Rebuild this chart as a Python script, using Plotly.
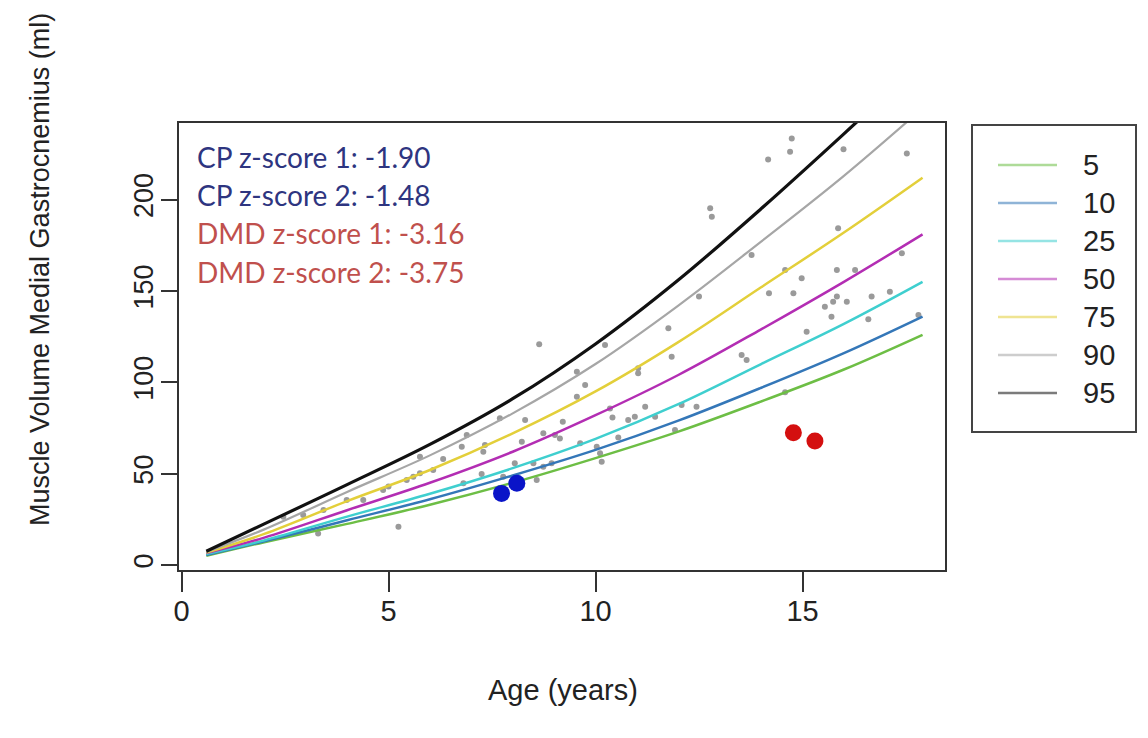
import plotly.graph_objects as go

# ---------------- data ----------------
ages = [0.6, 2, 4, 6, 8, 10, 12, 14, 16, 17.9]
percentile_labels = ["5", "10", "25", "50", "75", "90", "95"]
p5 = [5, 12.5, 22.5, 33, 45, 58.5, 73, 89.5, 107, 126]
p10 = [5.5, 13, 24.5, 36, 49, 63, 79, 97, 116, 136]
p25 = [6, 13.5, 26.5, 39, 53, 69, 88, 110, 132, 155]
p50 = [6.5, 15, 30, 45, 62, 82, 104, 129, 155, 181]
p75 = [6.8, 17, 35, 52, 72, 95, 122, 152, 182, 212]
p90 = [7.2, 19.5, 40, 60, 83, 110, 142, 177, 213, 250]
p95 = [7.5, 22.5, 44, 66, 91, 121, 156, 195, 236, 276]
percentile_values = [p5, p10, p25, p50, p75, p90, p95]
percentile_colors = ["#6DBE45", "#3477B8", "#3FCFCF", "#B32DB3", "#E3CF3A", "#A6A6A6", "#111111"]
percentile_widths = [2.5, 2.5, 2.5, 2.5, 2.5, 2.2, 3.2]

ref_age = [2.46, 2.94, 3.3, 3.43, 3.99, 4.39, 4.87, 5.0, 5.24, 5.44, 5.6, 5.76, 5.76, 6.08,
           6.32, 6.77, 6.81, 6.89, 7.25, 7.29, 7.33, 7.69, 7.77, 8.05, 8.22, 8.30, 8.5, 8.58,
           8.64, 8.74, 8.74, 8.94, 9.02, 9.14, 9.21, 9.55, 9.55, 9.63, 9.75, 10.03, 10.11,
           10.15, 10.23, 10.35, 10.41, 10.55, 10.79, 10.95, 11.03, 11.03, 11.2, 11.44, 11.76,
           11.84, 11.92, 12.08, 12.44, 12.5, 12.77, 12.81, 13.53, 13.65, 13.77, 14.17, 14.19,
           14.58, 14.58, 14.7, 14.74, 14.78, 14.98, 15.1, 15.54, 15.7, 15.74, 15.83, 15.83,
           15.86, 15.99, 16.07, 16.27, 16.59, 16.67, 17.11, 17.4, 17.52, 17.8]
ref_vol = [26.4, 27.4, 17.3, 30.1, 35.6, 35.6, 41, 42.9, 21, 46.5, 48.3, 50.2, 59.3, 52,
           58, 64.7, 44.7, 71.2, 49.8, 62, 65.7, 80.3, 48.3, 55.7, 67.5, 79.4, 55.7, 46.5,
           120.8, 72.1, 53.8, 55.7, 71.2, 69.3, 78.4, 105.8, 92.1, 66.6, 98.5, 64.7, 61.1,
           56.5, 120.4, 85.7, 80.8, 69.8, 79.4, 81.2, 107.7, 105, 86.6, 81.2, 129.6,
           114, 73.9, 87.6, 86.6, 147, 195.2, 190.6, 115, 112.2, 169.7, 222, 148.7,
           94.5, 161.5, 226.2, 233.5, 148.7, 156.9, 127.7, 141.4, 135.9, 144.1, 146.9, 161.5,
           184.3, 227.5, 144.1, 161.5, 134.5, 146.9, 149.6, 170.6, 225.3, 136.8]

cp_age = [7.73, 8.10]
cp_vol = [39.2, 44.7]
dmd_age = [14.78, 15.30]
dmd_vol = [72.4, 67.9]

zscore_texts = ["CP z-score 1: -1.90", "CP z-score 2: -1.48",
                "DMD z-score 1: -3.16", "DMD z-score 2: -3.75"]
zscore_colors = ["#2E3580", "#2E3580", "#C0504D", "#C0504D"]

x_ticks = [0, 5, 10, 15]
y_ticks = [0, 50, 100, 150, 200]

# ---------------- layout geometry (pixels) ----------------
W, H = 1148, 738
L, R, T, B = 179, 945, 123, 570


def px_x(p):
    return (p - L) / (R - L)


def px_y(p):
    return (B - p) / (B - T)


fig = go.Figure()

fig.add_trace(go.Scatter(x=ref_age, y=ref_vol, mode="markers",
                         marker=dict(size=6, color="#9A9A9A"),
                         showlegend=False, hoverinfo="x+y"))

for lab, vals, col, w in zip(percentile_labels, percentile_values, percentile_colors, percentile_widths):
    fig.add_trace(go.Scatter(x=ages, y=vals, mode="lines", name=lab,
                             line=dict(color=col, width=w, shape="spline", smoothing=1.0),
                             showlegend=False))

fig.add_trace(go.Scatter(x=cp_age, y=cp_vol, mode="markers",
                         marker=dict(size=17, color="#0A14C8"), showlegend=False))
fig.add_trace(go.Scatter(x=dmd_age, y=dmd_vol, mode="markers",
                         marker=dict(size=17, color="#D40F0F"), showlegend=False))

annotations = []
shapes = []

# z-score texts
text_y = [157, 195, 233, 272]
for t, c, yy in zip(zscore_texts, zscore_colors, text_y):
    annotations.append(dict(x=px_x(195), y=px_y(yy), xref="paper", yref="paper",
                            text=t, showarrow=False, xanchor="left", yanchor="middle",
                            font=dict(family="Lato", size=28, color=c)))

# manual legend
shapes.append(dict(type="rect", xref="paper", yref="paper",
                   x0=px_x(972), x1=px_x(1136), y0=px_y(125), y1=px_y(432),
                   line=dict(color="#444444", width=2), fillcolor="rgba(0,0,0,0)"))
for i, (lab, col) in enumerate(zip(percentile_labels, percentile_colors)):
    yy = 165 + 38 * i
    shapes.append(dict(type="line", xref="paper", yref="paper",
                       x0=px_x(998), x1=px_x(1057), y0=px_y(yy), y1=px_y(yy),
                       line=dict(color=col, width=2.5), opacity=0.55))
    annotations.append(dict(x=px_x(1081), y=px_y(yy), xref="paper", yref="paper",
                            text=lab, showarrow=False, xanchor="left", yanchor="middle",
                            font=dict(family="Liberation Sans, Arial", size=29, color="#222222")))

# axis titles
annotations.append(dict(x=px_x(563), y=px_y(690), xref="paper", yref="paper",
                        text="Age (years)", showarrow=False, xanchor="center", yanchor="middle",
                        font=dict(family="Liberation Sans, Arial", size=29, color="#222222")))
annotations.append(dict(x=px_x(40), y=px_y(270), xref="paper", yref="paper",
                        text="Muscle Volume Medial Gastrocnemius (ml)", showarrow=False,
                        textangle=-90, xanchor="center", yanchor="middle",
                        font=dict(family="Liberation Sans, Arial", size=27, color="#222222")))

fig.update_layout(
    width=W, height=H,
    margin=dict(l=L, r=W - R, t=T, b=H - B),
    paper_bgcolor="white", plot_bgcolor="white",
    annotations=annotations, shapes=shapes,
    showlegend=False,
)
fig.update_xaxes(range=[(L - 181.5) / 41.4, (R - 181.5) / 41.4],
                 tickvals=x_ticks, ticktext=[str(v) for v in x_ticks],
                 showgrid=False, zeroline=False,
                 showline=True, mirror=True, linecolor="#333333", linewidth=2,
                 ticks="outside", ticklen=20, tickwidth=2, tickcolor="#333333",
                 ticklabelstandoff=-6,
                 tickfont=dict(family="Liberation Sans, Arial", size=29, color="#222222"))
fig.update_yaxes(range=[(565 - B) / 1.827, (565 - T) / 1.827],
                 tickvals=y_ticks, ticktext=[str(v) for v in y_ticks],
                 tickangle=-90,
                 showgrid=False, zeroline=False,
                 showline=True, mirror=True, linecolor="#333333", linewidth=2,
                 ticks="outside", ticklen=16, tickwidth=2, tickcolor="#333333",
                 ticklabelstandoff=-3,
                 tickfont=dict(family="Liberation Sans, Arial", size=27, color="#222222"))

fig.write_html("out.html")
